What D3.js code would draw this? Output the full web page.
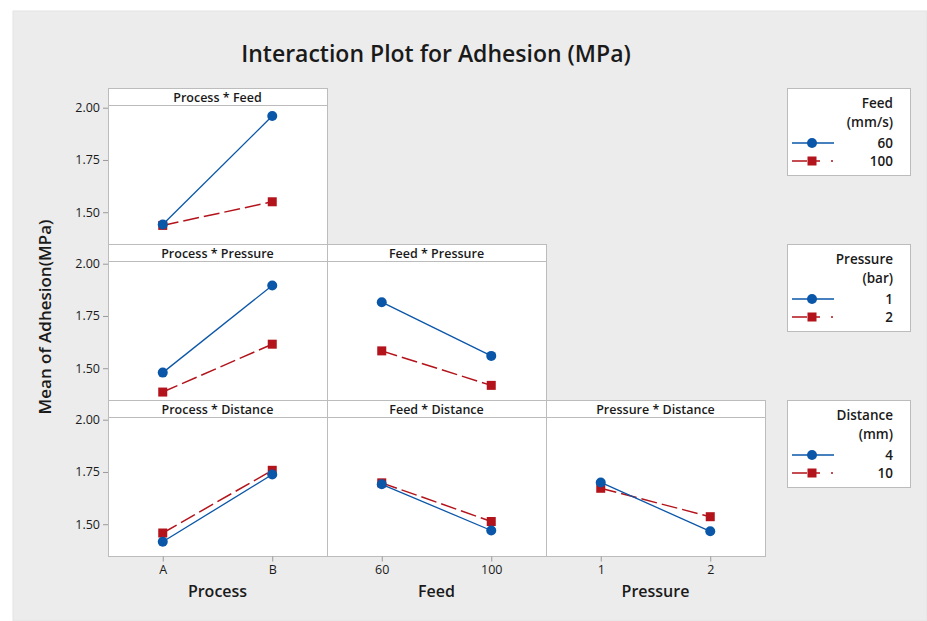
<!DOCTYPE html>
<html>
<head>
<meta charset="utf-8">
<script src="https://cdn.jsdelivr.net/npm/d3@7"></script>
<style>
  body { margin: 0; background: #ffffff; }
  svg { display: block; }
  text { font-family: "Open Sans", "Noto Sans", sans-serif; fill: #1a1a1a; }
</style>
</head>
<body>
<svg id="chart" width="927" height="621"></svg>
<script>
// Factor levels
const processLevels = ["A", "B"];
const feedLevels = ["60", "100"];
const pressureLevels = ["1", "2"];
const distanceLevels = ["4", "10"];

// Mean adhesion (MPa) for each interaction, one array per trace level
const processFeed60 = [1.441, 1.960];
const processFeed100 = [1.437, 1.550];
const processPressure1 = [1.479, 1.896];
const processPressure2 = [1.386, 1.615];
const feedPressure1 = [1.816, 1.559];
const feedPressure2 = [1.583, 1.418];
const processDistance4 = [1.416, 1.738];
const processDistance10 = [1.458, 1.758];
const feedDistance4 = [1.691, 1.470];
const feedDistance10 = [1.698, 1.513];
const pressureDistance4 = [1.700, 1.466];
const pressureDistance10 = [1.672, 1.536];

const yTicks = [1.50, 1.75, 2.00];
const yDomain = [1.348, 2.013];

const xTitles = ["Process", "Feed", "Pressure"];
const legendTitles = [["Feed", "(mm/s)"], ["Pressure", "(bar)"], ["Distance", "(mm)"]];
const legendLabels = [feedLevels, pressureLevels, distanceLevels];

const panels = [
  { row: 0, col: 0, title: "Process * Feed", levels: processLevels, series: [processFeed60, processFeed100] },
  { row: 1, col: 0, title: "Process * Pressure", levels: processLevels, series: [processPressure1, processPressure2] },
  { row: 1, col: 1, title: "Feed * Pressure", levels: feedLevels, series: [feedPressure1, feedPressure2] },
  { row: 2, col: 0, title: "Process * Distance", levels: processLevels, series: [processDistance4, processDistance10] },
  { row: 2, col: 1, title: "Feed * Distance", levels: feedLevels, series: [feedDistance4, feedDistance10] },
  { row: 2, col: 2, title: "Pressure * Distance", levels: pressureLevels, series: [pressureDistance4, pressureDistance10] }
];

// Layout
const colX = [108, 327, 546, 765];
const rowTop = [88, 244, 400];
const stripH = 17;
const plotH = 139;

const blue = "#0a56a8";
const red = "#b3131a";
const frame = "#bcbcbc";
const dash = "16,5";

const svg = d3.select("#chart");

svg.append("rect")
  .attr("x", 13).attr("y", 11).attr("width", 914).attr("height", 610)
  .attr("fill", "#ececec").attr("stroke", "#e3e3e3");

svg.append("text")
  .attr("x", 436).attr("y", 62)
  .attr("text-anchor", "middle")
  .attr("font-size", 23).attr("font-weight", 600)
  .text("Interaction Plot for Adhesion (MPa)");

svg.append("text")
  .attr("transform", "translate(51,317) rotate(-90)")
  .attr("text-anchor", "middle")
  .attr("font-size", 17).attr("font-weight", 600)
  .text("Mean of Adhesion(MPa)");

function yScale(row) {
  const top = rowTop[row] + stripH;
  return d3.scaleLinear().domain(yDomain).range([top + plotH, top]);
}
function xScale(col, levels) {
  return d3.scalePoint().domain(levels).range([colX[col], colX[col + 1]]).padding(0.5);
}

panels.forEach(p => {
  const g = svg.append("g");
  const x0 = colX[p.col], w = colX[p.col + 1] - colX[p.col];
  const top = rowTop[p.row];
  g.append("rect").attr("x", x0 + 0.5).attr("y", top + 0.5).attr("width", w).attr("height", stripH)
    .attr("fill", "#fff").attr("stroke", frame);
  g.append("rect").attr("x", x0 + 0.5).attr("y", top + stripH + 0.5).attr("width", w).attr("height", plotH)
    .attr("fill", "#fff").attr("stroke", frame);
  g.append("text")
    .attr("x", x0 + w / 2).attr("y", top + 13.5)
    .attr("text-anchor", "middle").attr("font-size", 12.5).attr("font-weight", 600)
    .text(p.title);

  const x = xScale(p.col, p.levels);
  const y = yScale(p.row);
  const line = d3.line().x((d, i) => x(p.levels[i])).y(d => y(d));

  // Second trace level (dashed red squares) drawn first, first level on top
  const s1 = p.series[1];
  g.append("path").datum(s1).attr("d", line)
    .attr("fill", "none").attr("stroke", red).attr("stroke-width", 1.5).attr("stroke-dasharray", dash);
  g.selectAll(".sq").data(s1).join("rect")
    .attr("x", (d, i) => x(p.levels[i]) - 4.5).attr("y", d => y(d) - 4.5)
    .attr("width", 9).attr("height", 9).attr("fill", red);

  const s0 = p.series[0];
  g.append("path").datum(s0).attr("d", line)
    .attr("fill", "none").attr("stroke", blue).attr("stroke-width", 1.3);
  g.selectAll(".ci").data(s0).join("circle")
    .attr("cx", (d, i) => x(p.levels[i])).attr("cy", d => y(d))
    .attr("r", 5).attr("fill", blue);
});

// Left axes, one per row
[0, 1, 2].forEach(row => {
  const ax = svg.append("g")
    .attr("transform", `translate(${colX[0]},0)`)
    .call(d3.axisLeft(yScale(row)).tickValues(yTicks).tickFormat(d3.format(".2f")).tickSize(5).tickPadding(3));
  ax.select(".domain").remove();
  ax.selectAll(".tick line").attr("stroke", "#9a9a9a");
  ax.selectAll(".tick text").attr("font-size", 12.5).attr("fill", "#111")
    .attr("font-family", "'Open Sans', sans-serif");
});

// Bottom axes, one per column
[processLevels, feedLevels, pressureLevels].forEach((levels, col) => {
  const bottom = rowTop[2] + stripH + plotH + 0.5;
  const ax = svg.append("g")
    .attr("transform", `translate(0,${bottom})`)
    .call(d3.axisBottom(xScale(col, levels)).tickSize(5).tickPadding(4));
  ax.select(".domain").remove();
  ax.selectAll(".tick line").attr("stroke", "#9a9a9a");
  ax.selectAll(".tick text").attr("font-size", 12.5).attr("fill", "#111")
    .attr("font-family", "'Open Sans', sans-serif");
  svg.append("text")
    .attr("x", (colX[col] + colX[col + 1]) / 2).attr("y", 597)
    .attr("text-anchor", "middle").attr("font-size", 16).attr("font-weight", 600)
    .text(xTitles[col]);
});

// Legends
legendTitles.forEach((title, i) => {
  const g = svg.append("g").attr("transform", `translate(787,${rowTop[i]})`);
  g.append("rect").attr("x", 0.5).attr("y", 0.5).attr("width", 123).attr("height", 87)
    .attr("fill", "#fff").attr("stroke", frame);
  title.forEach((t, j) => {
    g.append("text").attr("x", 106).attr("y", 20 + j * 19)
      .attr("text-anchor", "end").attr("font-size", 13.5).attr("font-weight", 600).text(t);
  });
  const labels = legendLabels[i];
  // first level
  g.append("line").attr("x1", 5).attr("x2", 47).attr("y1", 55).attr("y2", 55)
    .attr("stroke", blue).attr("stroke-width", 1.3);
  g.append("circle").attr("cx", 25).attr("cy", 55).attr("r", 5).attr("fill", blue);
  g.append("text").attr("x", 106).attr("y", 60).attr("text-anchor", "end")
    .attr("font-size", 13.5).attr("font-weight", 600).text(labels[0]);
  // second level
  g.append("line").attr("x1", 5).attr("x2", 47).attr("y1", 73).attr("y2", 73)
    .attr("stroke", red).attr("stroke-width", 1.5).attr("stroke-dasharray", "15,6,7,11,2");
  g.append("rect").attr("x", 20.5).attr("y", 68.5).attr("width", 9).attr("height", 9).attr("fill", red);
  g.append("text").attr("x", 106).attr("y", 78).attr("text-anchor", "end")
    .attr("font-size", 13.5).attr("font-weight", 600).text(labels[1]);
});
</script>
</body>
</html>
